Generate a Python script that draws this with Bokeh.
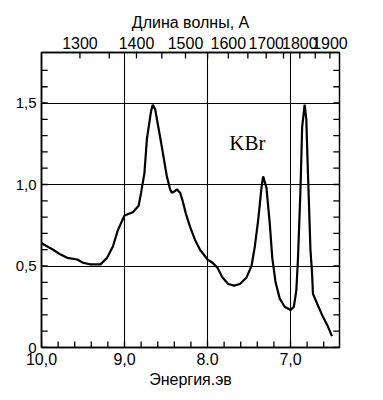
from bokeh.plotting import figure
from bokeh.models import Range1d, LinearAxis, FixedTicker
from bokeh.core.properties import value
from bokeh.embed import file_html
from bokeh.resources import INLINE

# Energy (eV) and reflectance-like values
energy = [10.0, 9.93, 9.86, 9.77, 9.69, 9.57, 9.50, 9.41, 9.29, 9.21, 9.14, 9.08,
          9.00, 8.90, 8.83, 8.80, 8.76, 8.73, 8.68, 8.66, 8.63, 8.55, 8.49, 8.45,
          8.43, 8.39, 8.37, 8.33, 8.30, 8.26, 8.21, 8.15, 8.09, 8.00, 7.94, 7.88,
          7.82, 7.75, 7.68, 7.61, 7.53, 7.47, 7.43, 7.39, 7.35, 7.33, 7.29, 7.25,
          7.22, 7.18, 7.13, 7.07, 7.00, 6.96, 6.93, 6.91, 6.88, 6.86, 6.83, 6.81,
          6.79, 6.76, 6.74, 6.73, 6.68, 6.62, 6.56, 6.50]
signal = [0.64, 0.62, 0.60, 0.57, 0.55, 0.54, 0.52, 0.51, 0.51, 0.55, 0.62, 0.72,
          0.81, 0.83, 0.87, 0.95, 1.07, 1.28, 1.45, 1.49, 1.46, 1.23, 1.05, 0.97,
          0.95, 0.96, 0.97, 0.95, 0.90, 0.82, 0.74, 0.66, 0.60, 0.54, 0.52, 0.49,
          0.43, 0.39, 0.38, 0.39, 0.43, 0.50, 0.62, 0.78, 0.98, 1.05, 0.98, 0.76,
          0.55, 0.40, 0.30, 0.25, 0.23, 0.25, 0.35, 0.55, 0.97, 1.35, 1.49, 1.40,
          1.07, 0.60, 0.45, 0.33, 0.27, 0.20, 0.14, 0.07]

energy_ticks = [10.0, 9.0, 8.0, 7.0]
energy_labels = ["10,0", "9,0", "8.0", "7,0"]
energy_minor = [9.8, 9.6, 9.4, 9.2, 8.8, 8.6, 8.4, 8.2, 7.8, 7.6, 7.4, 7.2, 6.8, 6.6]
y_ticks = [0.0, 0.5, 1.0, 1.5]
y_labels = ["0", "0,5", "1,0", "1,5"]
y_minor = [0.1, 0.2, 0.3, 0.4, 0.6, 0.7, 0.8, 0.9, 1.1, 1.2, 1.3, 1.4, 1.6, 1.7]
wavelengths = [1300, 1400, 1500, 1600, 1700, 1800, 1900]
wavelength_minor = [1350, 1450, 1550, 1650, 1750, 1850]
HC = 12398.0  # eV*Angstrom

X0, X1 = 10.0, 6.41
Y0, Y1 = 0.0, 1.81
TICK_DX = 0.075   # inward tick length along x (about 6 px)
TICK_DY = 0.037   # inward tick length along y (about 6 px)
FONT = "Liberation Sans"

p = figure(width=375, height=392, output_backend="svg", toolbar_location=None,
           x_range=Range1d(X0, X1), y_range=Range1d(Y0, Y1),
           min_border_left=41, min_border_right=36, min_border_top=52, min_border_bottom=45,
           x_axis_location=None, y_axis_location=None)
p.outline_line_color = "black"
p.outline_line_width = 1.5


def style(ax, size="16px", labels=True):
    ax.axis_line_color = "black"
    ax.axis_line_width = 1.5
    ax.major_tick_in = 0
    ax.major_tick_out = 0
    ax.minor_tick_in = 0
    ax.minor_tick_out = 0
    ax.major_label_text_font = FONT
    ax.major_label_text_font_size = size
    ax.major_label_text_color = "black"
    ax.major_label_standoff = 5
    ax.axis_label_text_font = FONT
    ax.axis_label_text_font_size = "16px"
    ax.axis_label_text_font_style = "normal"
    ax.axis_label_text_color = "black"
    ax.axis_label_standoff = 3
    if not labels:
        ax.major_label_text_alpha = 0


# bottom energy axis
bottom = LinearAxis(ticker=FixedTicker(ticks=energy_ticks, minor_ticks=energy_minor),
                    axis_label="Энергия.эв")
bottom.major_label_overrides = {t: l for t, l in zip(energy_ticks, energy_labels)}
style(bottom)
p.add_layout(bottom, "below")

# top wavelength axis (nonlinear in energy)
w_e = [HC / w for w in wavelengths]
w_minor = [HC / w for w in wavelength_minor]
top = LinearAxis(ticker=FixedTicker(ticks=w_e, minor_ticks=w_minor),
                 axis_label="Длина волны, A")
top.major_label_overrides = {e: str(w) for e, w in zip(w_e, wavelengths)}
style(top)
top.major_label_standoff = 4
p.add_layout(top, "above")

left = LinearAxis(ticker=FixedTicker(ticks=y_ticks, minor_ticks=y_minor))
left.major_label_overrides = {t: l for t, l in zip(y_ticks, y_labels)}
style(left, size="15px")
p.add_layout(left, "left")

p.xgrid.ticker = FixedTicker(ticks=[9.0, 8.0, 7.0])
p.ygrid.ticker = FixedTicker(ticks=[0.5, 1.0, 1.5])
for g in (p.xgrid, p.ygrid):
    g.grid_line_color = "black"
    g.grid_line_width = 1.1
    g.grid_line_alpha = 1.0

# inward tick marks along the four frame edges, derived from the tick lists
yt = y_ticks + y_minor
n = len(yt)
p.segment(x0=[X0] * n, y0=yt, x1=[X0 - TICK_DX] * n, y1=yt, line_color="black", line_width=1.3)
p.segment(x0=[X1] * n, y0=yt, x1=[X1 + TICK_DX] * n, y1=yt, line_color="black", line_width=1.3)
bt = energy_ticks + energy_minor
p.segment(x0=bt, y0=[Y0] * len(bt), x1=bt, y1=[Y0 + TICK_DY] * len(bt),
          line_color="black", line_width=1.3)
tt = w_e + w_minor
p.segment(x0=tt, y0=[Y1] * len(tt), x1=tt, y1=[Y1 - TICK_DY] * len(tt),
          line_color="black", line_width=1.3)

p.line(energy, signal, line_color="black", line_width=2.2)

p.text(x=[7.52], y=[1.257], text=["KBr"], text_font=value("Liberation Serif"),
       text_font_size="21px", text_align="center", text_baseline="middle",
       text_color="black")

open("out.html", "w").write(file_html(p, INLINE))
